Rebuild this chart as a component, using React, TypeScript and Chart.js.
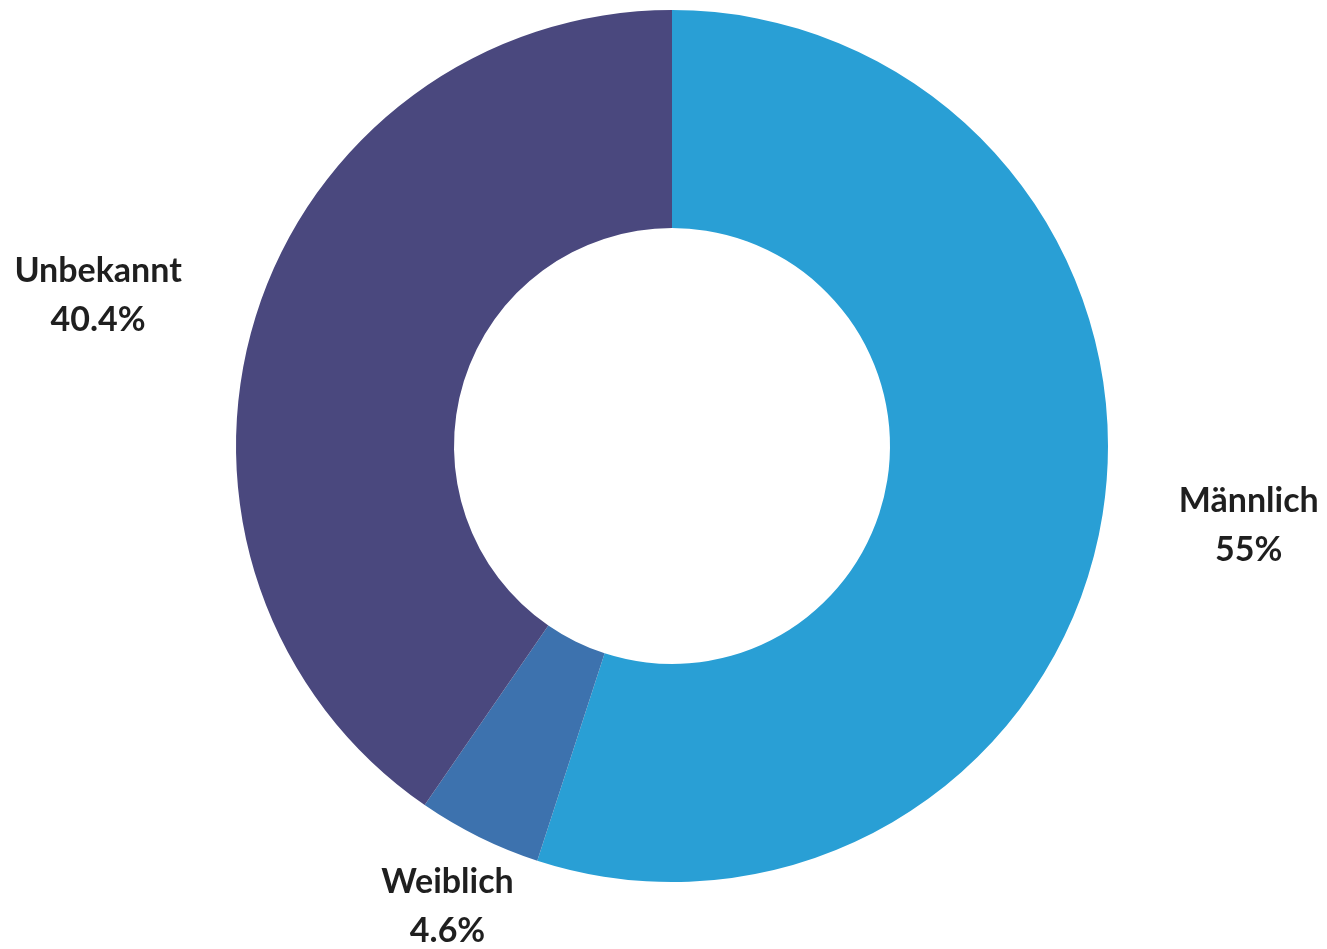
import React, { useEffect, useRef } from "react";
import { Chart, registerables } from "chart.js";

Chart.register(...registerables);

const categories = ["Männlich", "Weiblich", "Unbekannt"];
const values = [55, 4.6, 40.4];
const valueLabels = ["55%", "4.6%", "40.4%"];
const colors = ["#299FD5", "#3D72AE", "#4A487E"];

const FONT = "bold 34px Lato";
const LINE_H = 49;
const PAD = 71;
const GAP = 6;

const outsideLabels = {
  id: "outsideLabels",
  afterDraw(chart: any) {
    const ctx = chart.ctx;
    const meta = chart.getDatasetMeta(0);
    const W = chart.width;
    const H = chart.height;
    ctx.save();
    ctx.font = FONT;
    ctx.fillStyle = "#1f1f1f";
    ctx.textAlign = "center";
    ctx.textBaseline = "middle";
    meta.data.forEach((arc: any, i: number) => {
      const { x, y, startAngle, endAngle, outerRadius } = arc.getProps(
        ["x", "y", "startAngle", "endAngle", "outerRadius"],
        true
      );
      const mid = (startAngle + endAngle) / 2;
      const dx = Math.cos(mid);
      const dy = Math.sin(mid);
      const ax = x + dx * (outerRadius + PAD);
      const ay = y + dy * (outerRadius + PAD);
      const lines = [categories[i], valueLabels[i]];
      const w = Math.max(...lines.map((l) => ctx.measureText(l).width));
      const h = LINE_H * lines.length;
      let cx = ax;
      if (dx > 0.5) cx = ax + GAP + w / 2;
      else if (dx < -0.5) cx = ax - GAP - w / 2;
      let cy = ay;
      if (dy > 0.5) cy = ay + h / 2;
      else if (dy < -0.5) cy = ay - h / 2;
      // keep glyphs inside the canvas
      const firstMid = cy - h / 2 + LINE_H * 0.5;
      const lastMid = cy - h / 2 + LINE_H * (lines.length - 0.5);
      if (lastMid + 15 > H - 3) cy -= lastMid + 15 - (H - 3);
      if (firstMid - 15 < 2) cy += 2 - (firstMid - 15);
      cx = Math.min(Math.max(cx, w / 2 + 2), W - w / 2 - 2);
      lines.forEach((l, k) => {
        ctx.fillText(l, cx, cy - h / 2 + LINE_H * (k + 0.5));
      });
    });
    ctx.restore();
  },
};

export default function App() {
  const ref = useRef<HTMLCanvasElement>(null);
  useEffect(() => {
    document.body.style.margin = "0";
    document.body.style.overflow = "hidden";
    const chart = new Chart(ref.current!, {
      type: "doughnut",
      data: {
        labels: categories,
        datasets: [
          {
            data: values,
            backgroundColor: colors,
            borderWidth: 0,
          },
        ],
      },
      options: {
        animation: false,
        responsive: false,
        cutout: "50%",
        layout: { padding: { left: 236, right: 219, top: 10, bottom: 67 } },
        plugins: {
          legend: { display: false },
          tooltip: { enabled: false },
        },
      },
      plugins: [outsideLabels],
    });
    return () => chart.destroy();
  }, []);
  return (
    <div style={{ width: 1327, height: 949, background: "#fff" }}>
      <canvas ref={ref} width={1327} height={949} style={{ display: "block" }} />
    </div>
  );
}
